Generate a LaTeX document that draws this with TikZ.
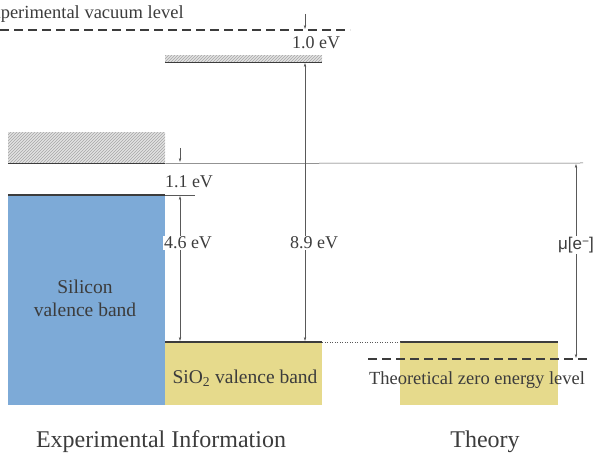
\documentclass[tikz,border=0pt]{standalone}
\usepackage{fontspec}
\setmainfont{Liberation Serif}
\setsansfont{Liberation Sans}
\usetikzlibrary{arrows.meta,patterns}
\definecolor{siblue}{RGB}{125,170,215}
\definecolor{oxyellow}{RGB}{230,218,140}
\definecolor{ink}{RGB}{60,60,60}
\begin{document}
\begin{tikzpicture}[x=1pt,y=-1pt,
  lbl/.style={font=\fontsize{18}{21}\selectfont, text=ink, inner sep=1pt},
  lblw/.style={lbl, fill=white},
  boxlbl/.style={lbl, font=\fontsize{19.5}{23}\selectfont},
  biglbl/.style={font=\fontsize{24}{28}\selectfont, text=ink, inner sep=0pt},
  band/.style={draw=none, anchor=north west, inner sep=0pt, minimum width=157pt},
  hatch/.style={preaction={fill=gray!22}, pattern=north east lines, pattern color=gray!70},
  bandedge/.style={line width=1.6pt, draw=ink},
  thinline/.style={line width=0.5pt, draw=black!65},
  dim/.style={thinline, {Stealth[length=4pt,width=2.4pt]}-{Stealth[length=4pt,width=2.4pt]}},
  dimone/.style={thinline, -{Stealth[length=4pt,width=2.4pt]}},
  lev/.style={line width=1.5pt, dash pattern=on 9pt off 5pt, draw=ink},
]
\useasboundingbox (0,0) rectangle (603,470);
% bands
\node[band, hatch, minimum height=31pt] (sicb) at (8,132) {};
\node[band, fill=siblue, minimum height=210pt] (sivb) at (8,195) {};
\node[band, hatch, minimum height=7pt] (oxcb) at (165,55) {};
\node[band, fill=oxyellow, minimum height=63pt] (oxvb) at (165,342) {};
\node[band, fill=oxyellow, minimum height=63pt, minimum width=158pt] (thvb) at (400,342) {};
% band edges
\draw[bandedge] (sicb.south west) -- (sicb.south east);
\draw[bandedge] (sivb.north west) -- (sivb.north east);
\draw[bandedge] (oxcb.south west) -- (oxcb.south east);
\draw[bandedge] (oxvb.north west) -- (oxvb.north east);
\draw[bandedge] (thvb.north west) -- (thvb.north east);
% reference lines
\coordinate (refend) at (583,163);
\draw[thinline] (sicb.south east) -- (refend);
\coordinate (tick) at (195,195);
\draw[thinline] (sivb.north east) -- (tick);
\coordinate (vacL) at (0,30);
\coordinate (vacR) at (350,30);
\draw[lev] (vacL) -- (vacR);
\coordinate (zeroL) at (368,359);
\coordinate (zeroR) at (590,359);
\draw[lev] (zeroL) -- (zeroR);
\draw[thinline, dotted, line width=0.8pt] (oxvb.north east) -- (thvb.north west);
% arrows
\coordinate (a1t) at (305,14);
\coordinate (a1b) at (305,29);
\draw[dimone] (a1t) -- (a1b);
\coordinate (a89t) at (305,63);
\coordinate (a89b) at (305,341);
\draw[dim] (a89t) -- (a89b);
\coordinate (a11t) at (180,148);
\coordinate (a11b) at (180,162);
\draw[dimone] (a11t) -- (a11b);
\coordinate (a46t) at (180,196);
\coordinate (a46b) at (180,341);
\draw[dim] (a46t) -- (a46b);
\coordinate (amut) at (576,164);
\coordinate (amub) at (576,358);
\draw[dim] (amut) -- (amub);
% labels
\node[lbl, anchor=west, font=\fontsize{18.5}{22}\selectfont] (vac) at (-21,14) {Experimental vacuum level};
\node[lbl] (l10) at (316,43) {1.0 eV};
\node[lbl] (l11) at (189,182) {1.1 eV};
\node[lblw] (l46) at (188,243) {4.6 eV};
\node[lblw] (l89) at (314,243) {8.9 eV};
\node[lblw, font=\sffamily\fontsize{17}{20}\selectfont] (lmu) at (576,245) {μ[e\raisebox{0.45ex}{\fontsize{12}{13}\selectfont −}]};
\node[boxlbl, align=center] (sil) at (85,298) {Silicon\\valence band};
\node[boxlbl] (sio) at (245,378) {SiO\textsubscript{2} valence band};
\node[lbl, font=\fontsize{18.5}{22}\selectfont] (tz) at (477,380) {Theoretical zero energy level};
\node[biglbl] (expinfo) at (161,442) {Experimental Information};
\node[biglbl] (theory) at (485,442) {Theory};
\end{tikzpicture}
\end{document}
